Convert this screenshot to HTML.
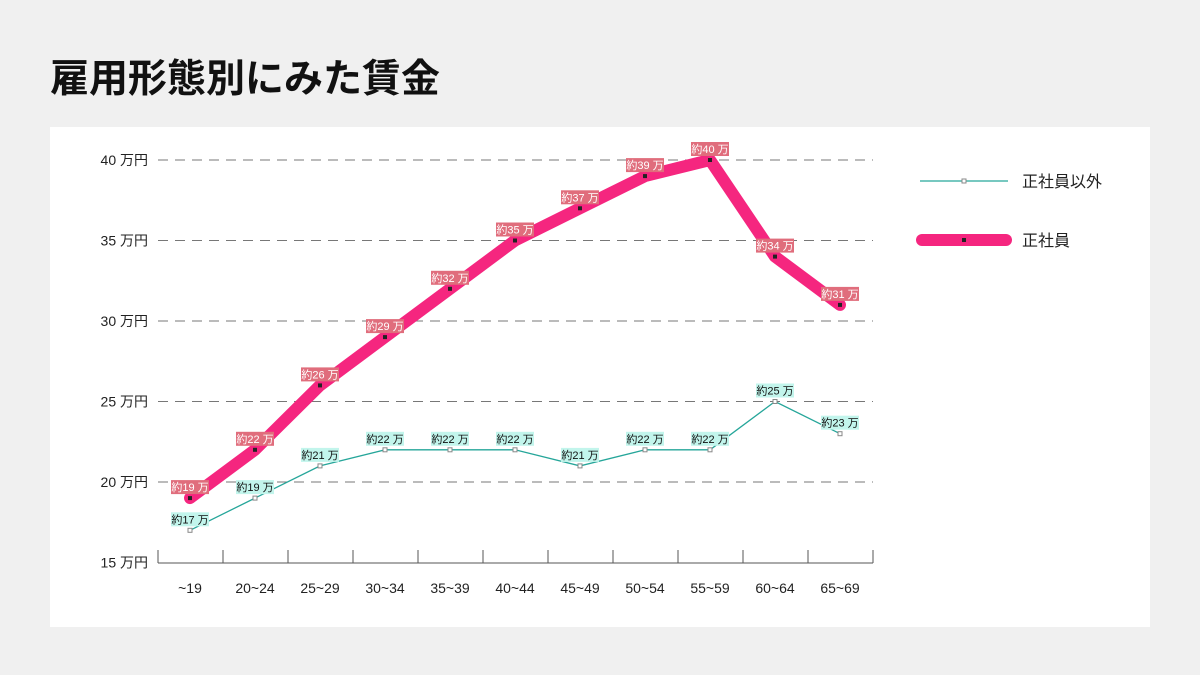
<!DOCTYPE html>
<html><head><meta charset="utf-8"><style>
body{margin:0;width:1200px;height:675px;background:#f0f0f0;overflow:hidden;font-family:"Liberation Sans","Noto Sans CJK JP",sans-serif}
h1{position:absolute;left:50px;top:50px;margin:0;font-size:39px;font-weight:bold;color:#111;font-family:"Noto Sans CJK JP",sans-serif;line-height:52px}
.card{position:absolute;left:50px;top:127px;width:1100px;height:500px;background:#fff}
svg{position:absolute;left:0;top:0}
text{font-family:"Liberation Sans","Noto Sans CJK JP",sans-serif}
</style></head><body>
<h1>雇用形態別にみた賃金</h1>
<div class="card"></div>
<svg width="1200" height="675" id="s"></svg>
<script>
const s=document.getElementById('s');let h='';
const Y=v=>160+(40-v)*16.1, X=i=>190+i*65;
for(let v=20;v<=40;v+=5){h+=`<line x1="158" x2="873" y1="${Y(v)}" y2="${Y(v)}" stroke="#777" stroke-dasharray="10,7" stroke-width="1"/>`;}
for(let v=15;v<=40;v+=5)h+=`<text x="148" y="${Y(v)+5}" font-size="14" text-anchor="end" fill="#222">${v} 万円</text>`;
h+=`<line x1="158" x2="873" y1="563" y2="563" stroke="#555"/>`;
for(let i=0;i<=11;i++)h+=`<line x1="${158+i*65}" x2="${158+i*65}" y1="550" y2="563" stroke="#555"/>`;
const cats=["~19","20~24","25~29","30~34","35~39","40~44","45~49","50~54","55~59","60~64","65~69"];
cats.forEach((c,i)=>h+=`<text x="${X(i)}" y="593" font-size="14" text-anchor="middle" fill="#222">${c}</text>`);
const a=[19,22,26,29,32,35,37,39,40,34,31],b=[17,19,21,22,22,22,21,22,22,25,23];
h+=`<polyline points="${a.map((v,i)=>X(i)+','+Y(v)).join(' ')}" fill="none" stroke="#f5267f" stroke-width="12" stroke-linejoin="round" stroke-linecap="round"/>`;
h+=`<polyline points="${b.map((v,i)=>X(i)+','+Y(v)).join(' ')}" fill="none" stroke="#26a69a" stroke-width="1.3"/>`;
a.forEach((v,i)=>{h+=`<rect x="${X(i)-2}" y="${Y(v)-2}" width="4" height="4" fill="#222"/>`;h+=`<rect x="${X(i)-19}" y="${Y(v)-18}" width="38" height="14" fill="#e06d7c"/><text x="${X(i)}" y="${Y(v)-7}" font-size="11" fill="#fff" text-anchor="middle">約${v} 万</text>`});
b.forEach((v,i)=>{h+=`<rect x="${X(i)-2}" y="${Y(v)-2}" width="4" height="4" fill="#fff" stroke="#888"/>`;h+=`<rect x="${X(i)-19}" y="${Y(v)-18}" width="38" height="14" fill="#c2f5ec"/><text x="${X(i)}" y="${Y(v)-7}" font-size="11" fill="#111" text-anchor="middle">約${v} 万</text>`});
h+=`<line x1="920" x2="1008" y1="181" y2="181" stroke="#26a69a" stroke-width="1.3"/><rect x="962" y="179" width="4" height="4" fill="#fff" stroke="#888"/><text x="1022" y="187" font-size="16" fill="#222">正社員以外</text>`;
h+=`<line x1="922" x2="1006" y1="240" y2="240" stroke="#f5267f" stroke-width="12" stroke-linecap="round"/><rect x="962" y="238" width="4" height="4" fill="#222"/><text x="1022" y="246" font-size="16" fill="#222">正社員</text>`;
s.innerHTML=h;
</script>
</body></html>
